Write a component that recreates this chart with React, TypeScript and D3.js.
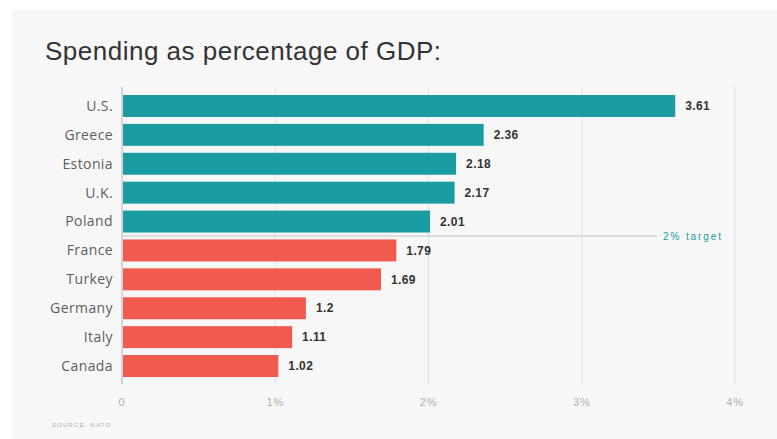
import React from "react";
import * as d3 from "d3";

const categories = ["U.S.", "Greece", "Estonia", "U.K.", "Poland", "France", "Turkey", "Germany", "Italy", "Canada"];
const values = [3.61, 2.36, 2.18, 2.17, 2.01, 1.79, 1.69, 1.2, 1.11, 1.02];
const tickValues = [0, 1, 2, 3, 4];
const tickLabels = ["0", "1%", "2%", "3%", "4%"];
const target = 2;
const targetLabel = "2% target";
const title = "Spending as percentage of GDP:";
const source = "SOURCE: NATO";

const W = 777;
const H = 439;

export default function App() {
  const x = d3.scaleLinear().domain([0, 4]).range([122, 735]);
  const y = d3.scaleBand<string>().domain(categories).range([95, 377]).paddingInner(0.24).paddingOuter(0);
  const teal = "#1b9ca2";
  const red = "#f15a4e";
  const gridTop = 87;
  const gridBottom = 384;
  const targetY = (y("Poland")! + y.bandwidth() + y("France")!) / 2;

  return (
    <svg width={W} height={H} style={{ position: "absolute", left: 0, top: 0, display: "block" }}>
      <rect x={0} y={0} width={W} height={H} fill="#ffffff" />
      <rect x={12} y={10} width={W - 12} height={H - 10} fill="#f7f7f7" />
      <text x={45} y={60} fontFamily="'Liberation Sans', Arial, sans-serif" fontSize={26} letterSpacing={0.5} fill="#333">
        {title}
      </text>
      {tickValues.slice(1).map((t) => (
        <line key={t} x1={x(t)} x2={x(t)} y1={gridTop} y2={gridBottom} stroke="#e2e2e2" strokeWidth={1} />
      ))}
      <line x1={x(0)} x2={x(0)} y1={gridTop} y2={gridBottom} stroke="#c8c8c8" strokeWidth={1.5} />
      {categories.map((c, i) => (
        <g key={c}>
          <rect x={x(0) + 1} y={y(c)} width={x(values[i]) - x(0) - 1} height={y.bandwidth()} fill={values[i] >= target ? teal : red} />
          <text x={113} y={y(c)! + y.bandwidth() / 2} dy="0.35em" textAnchor="end" fontFamily="'Open Sans', 'Noto Sans', sans-serif" fontSize={14} letterSpacing={0.4} fill="#5e5e5e">
            {c}
          </text>
          <text x={x(values[i]) + 10} y={y(c)! + y.bandwidth() / 2} dy="0.35em" fontFamily="'Liberation Sans', Arial, sans-serif" fontWeight="bold" fontSize={12} letterSpacing={0.4} fill="#333">
            {String(values[i])}
          </text>
        </g>
      ))}
      <line x1={x(0)} x2={657} y1={targetY} y2={targetY} stroke="#c4c4c4" strokeWidth={1} />
      <text x={663} y={targetY} dy="0.35em" fontFamily="'Liberation Sans', Arial, sans-serif" fontSize={10} letterSpacing={1.9} fill={teal}>
        {targetLabel}
      </text>
      {tickValues.map((t, i) => (
        <text key={t} x={x(t)} y={402} dy="0.35em" textAnchor="middle" fontFamily="'Liberation Sans', Arial, sans-serif" fontSize={11} letterSpacing={0.8} fill="#b0b0b0">
          {tickLabels[i]}
        </text>
      ))}
      <text x={52} y={425} dy="0.35em" fontFamily="'Liberation Sans', Arial, sans-serif" fontSize={6} letterSpacing={1.2} fill="#aaa">
        {source}
      </text>
    </svg>
  );
}
